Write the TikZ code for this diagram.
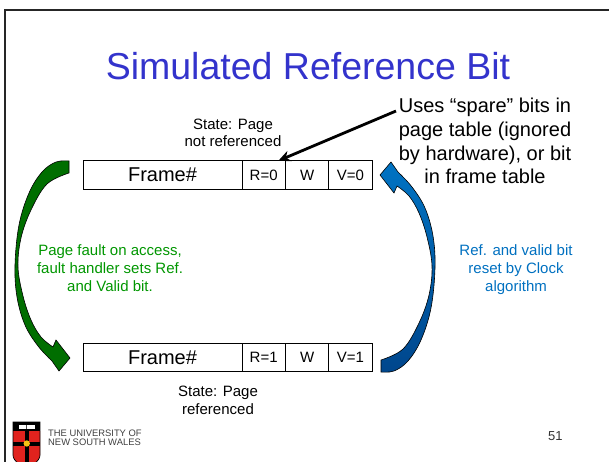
\documentclass[tikz,border=0pt]{standalone}
\usepackage{fontspec}
\setmainfont{Liberation Sans}
\usetikzlibrary{arrows.meta}
\definecolor{titleblue}{RGB}{51,51,204}
\definecolor{txtgreen}{RGB}{0,150,0}
\definecolor{txtblue}{RGB}{0,112,192}
\definecolor{arrgreen}{RGB}{0,110,0}
\definecolor{arrblueA}{RGB}{0,115,195}
\definecolor{arrblueB}{RGB}{0,70,140}
\definecolor{unswred}{RGB}{225,35,30}
\definecolor{unswgold}{RGB}{245,195,20}
\def\curvedarrowpath{(69,173) -- (69,161) -- plot[smooth, tension=0.6] coordinates {(69,161) (56,162) (42,172) (29,193) (19,225) (15,265) (17,297) (25,325) (38,346) (52,361)} -- (59,371) -- (70,358) -- (56,340) -- plot[smooth, tension=0.6] coordinates {(53,347) (41,337) (31,320) (23,296) (18,267) (21,238) (31,210) (47,184) (69,173)} -- cycle}
\begin{document}
\begin{tikzpicture}[x=1pt,y=-1pt,
  cell/.style={draw=black,line width=0.8pt,inner sep=0pt,outer sep=0pt,minimum height=28.5pt,anchor=west},
  bigcell/.style={cell,minimum width=159pt,font=\fontsize{20}{24}\selectfont},
  smallcell/.style={cell,minimum width=43.4pt,font=\fontsize{15}{18}\selectfont},
  label/.style={align=center,anchor=base,inner sep=0pt,font=\fontsize{15}{17.5}\selectfont},
  note/.style={align=center,anchor=base,inner sep=0pt,font=\fontsize{15}{18}\selectfont},
  shapeline/.style={draw=black,line width=0.6pt}]
\useasboundingbox (0,0) rectangle (609,462);
% slide frame
\draw[line width=2.6pt, black!85] (5,470) -- (5,10) -- (615,10);
% title
\node[anchor=base,inner sep=0pt,text=titleblue,font=\fontsize{37.5}{45}\selectfont] (title) at (308,80) {Simulated Reference Bit};
% top table
\node[bigcell] (f0) at (83,175) {Frame\#};
\node[smallcell] (r0) at (f0.east) {R=0};
\node[smallcell] (w0) at (r0.east) {W};
\node[smallcell] (v0) at (w0.east) {V=0};
% bottom table
\node[bigcell] (f1) at (83,357.5) {Frame\#};
\node[smallcell] (r1) at (f1.east) {R=1};
\node[smallcell] (w1) at (r1.east) {W};
\node[smallcell] (v1) at (w1.east) {V=1};
% state labels (anchor = baseline of last line)
\node[label] (s0) at (233,146.8) {State: Page\\not referenced};
\node[label] (s1) at (218,414.3) {State: Page\\referenced};
% annotation
\node[align=center,anchor=base,inner sep=0pt,font=\fontsize{20}{23.8}\selectfont] (uses) at (485,184) {Uses “spare” bits in\\page table (ignored\\by hardware), or bit\\in frame table};
\coordinate (ptr) at (396,111);
\coordinate (ptrtip) at ([xshift=-7pt]r0.north east);
\draw[line width=2.8pt, -{Stealth[length=12pt,width=11pt]}] (ptr) -- (ptrtip);
% curved arrows
\fill[arrgreen, shapeline] \curvedarrowpath;
\begin{scope}[rotate around={180:(225,266.5)}]
\shade[top color=arrblueA, bottom color=arrblueB, shapeline] \curvedarrowpath;
\end{scope}
% side notes
\node[note,text=txtgreen] (gnote) at (110,291) {Page fault on access,\\fault handler sets Ref.\\and Valid bit.};
\node[note,text=txtblue] (bnote) at (516,291) {Ref. and valid bit\\reset by Clock\\algorithm};
% page number
\node[anchor=base west,inner sep=0pt,text=black!80,font=\fontsize{13}{15}\selectfont] (pnum) at (548,440) {51};
% logo
\begin{scope}
\clip (0,0) rectangle (609,462);
\fill[unswred] (13,431) -- (40,431) -- (40,455) .. controls (40,462) and (30,466) .. (26.5,468) .. controls (23,466) and (13,462) .. (13,455) -- cycle;
\fill[black] (24.5,431) rectangle (29,468);
\fill[black] (13,441.5) rectangle (40,445.5);
\fill[unswgold] (26.75,443.5) circle (3.2pt);
\fill[black] (13,422) rectangle (40,431);
\fill[white] (18.5,424.5) rectangle (34.5,428.5);
\fill[black!70] (26.2,424.5) rectangle (26.8,428.5);
\draw[black,line width=0.7pt] (13,422) -- (40,422) -- (40,455) .. controls (40,462) and (30,466) .. (26.5,468) .. controls (23,466) and (13,462) .. (13,455) -- cycle;
\end{scope}
\node[anchor=base west,inner sep=0pt,text=black!75,font=\fontsize{9.4}{10}\selectfont] (uni1) at (48,436.6) {THE UNIVERSITY OF};
\node[anchor=base west,inner sep=0pt,text=black!75,font=\fontsize{9.4}{10}\selectfont] (uni2) at (48,445.2) {NEW SOUTH WALES};
\end{tikzpicture}
\end{document}
